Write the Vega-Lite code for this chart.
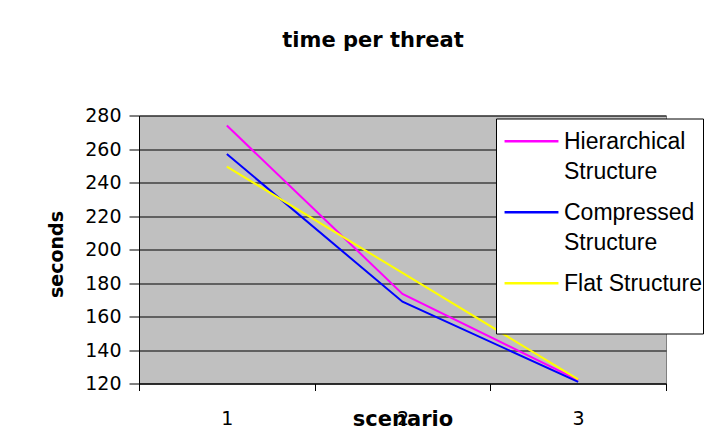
{
  "$schema": "https://vega.github.io/schema/vega-lite/v6.json",
  "width": 527,
  "height": 268,
  "autosize": "none",
  "padding": {"left": 139, "top": 115.5, "right": 54, "bottom": 54.5},
  "background": "white",
  "title": {"text": "time per threat", "font": "DejaVu Sans", "fontSize": 21, "fontWeight": "bold", "color": "black", "anchor": "middle", "dx": -29.5, "baseline": "alphabetic", "offset": 38.5},
  "data": {"values": [
    {"scenario": "1", "structure": "Hierarchical Structure", "seconds": 274},
    {"scenario": "2", "structure": "Hierarchical Structure", "seconds": 173.5},
    {"scenario": "3", "structure": "Hierarchical Structure", "seconds": 122},
    {"scenario": "1", "structure": "Compressed Structure", "seconds": 257},
    {"scenario": "2", "structure": "Compressed Structure", "seconds": 168.8},
    {"scenario": "3", "structure": "Compressed Structure", "seconds": 121},
    {"scenario": "1", "structure": "Flat Structure", "seconds": 249.5},
    {"scenario": "2", "structure": "Flat Structure", "seconds": 186},
    {"scenario": "3", "structure": "Flat Structure", "seconds": 122.5}
  ]},
  "mark": {"type": "line", "strokeWidth": 2},
  "encoding": {
    "x": {"field": "scenario", "type": "ordinal",
      "scale": {"type": "band", "paddingInner": 0, "paddingOuter": 0},
      "axis": {"title": "scenario", "labelAngle": 0, "tickBand": "extent", "tickSize": 7, "tickColor": "black", "domainColor": "black",
        "labelFont": "DejaVu Sans", "labelFontSize": 19, "labelColor": "black", "labelBaseline": "alphabetic", "labelPadding": 34,
        "titleFont": "DejaVu Sans", "titleFontSize": 21, "titleFontWeight": "bold", "titleColor": "black", "titleBaseline": "alphabetic", "titleY": 41.5, "grid": false}},
    "y": {"field": "seconds", "type": "quantitative",
      "scale": {"domain": [120, 280], "nice": false, "zero": false},
      "axis": {"title": "seconds", "values": [120, 140, 160, 180, 200, 220, 240, 260, 280], "tickSize": 10, "tickColor": "black", "domainColor": "black",
        "gridColor": "black", "gridWidth": 1, "gridOpacity": 1,
        "labelFont": "DejaVu Sans", "labelFontSize": 19, "labelPadding": 8, "labelColor": "black",
        "titleFont": "DejaVu Sans", "titleFontSize": 19, "titleFontWeight": "bold", "titleColor": "black", "titleX": -77, "titleY": 138.5, "titleBaseline": "alphabetic", "titleAlign": "center"}},
    "color": {"field": "structure", "type": "nominal",
      "scale": {"domain": ["Hierarchical Structure", "Compressed Structure", "Flat Structure"], "range": ["#FF00FF", "#0000FF", "#FFFF00"]},
      "legend": {"title": " ", "titleOrient": "bottom", "titleFontSize": 20, "titlePadding": 17, "orient": "none", "legendX": 357, "legendY": 3,
        "fillColor": "white", "strokeColor": "black", "padding": 0,
        "labelFont": "Liberation Sans", "labelFontSize": 23, "labelColor": "black", "labelBaseline": "top", "labelLimit": 300, "labelOffset": 20,
        "symbolType": "M-2.45,0.93H2.45", "symbolSize": 484, "symbolStrokeWidth": 2.5, "symbolOffset": 23, "rowPadding": 5,
        "labelExpr": "datum.label == 'Flat Structure' ? 'Flat Structure ' : split(datum.label, ' ')"}}
  },
  "config": {
    "view": {"fill": "#C0C0C0", "stroke": "#808080"},
    "style": {"guide-label": {"lineHeight": 30}}
  }
}
